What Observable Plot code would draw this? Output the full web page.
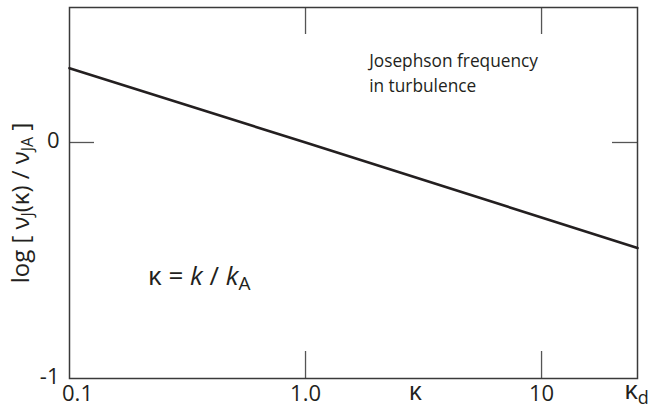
<!DOCTYPE html>
<html>
<head>
<meta charset="utf-8">
<script src="https://cdn.jsdelivr.net/npm/d3@7"></script>
<script src="https://cdn.jsdelivr.net/npm/@observablehq/plot@0.6"></script>
<style>
  html, body { margin: 0; padding: 0; background: #fff; }
  #chart svg { display: block; }
</style>
</head>
<body>
<div id="chart"></div>
<script>
// ---- data ----
const kappaD = 25.5;
const kappa = [0.1, 1, kappaD];
const logNu = [0.315, 0, -0.447];

const xTickValues = [1, 10];
const xTickLabels = ["1.0", "10"];
const xFirstTick = [0.1];
const xFirstLabel = "0.1";
const xLastTick = [kappaD];
const xLastLabel = "κd";
const xInnerTicks = [1, 10];

const yTickValues = [-1, 0];
const yTickLabels = ["-1", "0"];
const yInnerTicks = [0];

const yLabel = "log [ νJ(κ) / νJA ]";
const xLabel = "κ";
const noteText = "Josephson frequency\nin turbulence";
const kappaDef = "κ = k / kA";

// annotation anchors (data units)
const noteX = [1.86], noteY = [0.3];
const defX = [0.215], defY = [-0.57];
const xLabelX = [2.92];

// ---- layout ----
const W = 656, H = 408;
const mL = 69, mR = 19, mT = 7, mB = 30;
const innerW = W - mL - mR, innerH = H - mT - mB;
const tickLen = 27;
const ink = "#231f20";
const font = "Open Sans";
const tickFont = 22;

const data = kappa.map((k, i) => ({k, v: logNu[i]}));

const chart = Plot.plot({
  width: W, height: H,
  marginLeft: mL, marginRight: mR, marginTop: mT, marginBottom: mB,
  x: {type: "log", domain: [0.1, kappaD], axis: null},
  y: {domain: [-1, 0.572], axis: null},
  style: {fontFamily: font, background: "#fff", color: ink},
  marks: [
    Plot.tickX(xInnerTicks, {x: d => d, insetBottom: innerH - tickLen, stroke: "#555", strokeWidth: 1.3}),
    Plot.tickX(xInnerTicks, {x: d => d, insetTop: innerH - tickLen, stroke: "#555", strokeWidth: 1.3}),
    Plot.tickY(yInnerTicks, {y: d => d, insetRight: innerW - 25, stroke: "#555", strokeWidth: 1.3}),
    Plot.tickY(yInnerTicks, {y: d => d, insetLeft: innerW - 25, stroke: "#555", strokeWidth: 1.3}),
    Plot.frame({stroke: "#3a3a3a", strokeWidth: 1.5}),
    Plot.line(data, {x: "k", y: "v", stroke: ink, strokeWidth: 2.6}),
    // x tick labels
    Plot.text(xTickValues, {x: d => d, text: (d, i) => xTickLabels[i], frameAnchor: "bottom", textAnchor: "middle", lineAnchor: "middle", dy: 15, fontSize: tickFont, fill: ink}),
    Plot.text(xFirstTick, {x: d => d, text: () => xFirstLabel, frameAnchor: "bottom", textAnchor: "middle", lineAnchor: "middle", dx: 8, dy: 15, fontSize: tickFont, fill: ink}),
    Plot.text(xLastTick, {x: d => d, text: () => xLastLabel, frameAnchor: "bottom", textAnchor: "middle", lineAnchor: "middle", dx: -1, dy: 12, fontSize: 26, fill: ink}),
    // y tick labels
    Plot.text(yTickValues, {y: d => d, text: (d, i) => yTickLabels[i], frameAnchor: "left", textAnchor: "end", lineAnchor: "middle", dx: -10, dy: -2, fontSize: tickFont, fill: ink}),
    // axis labels
    Plot.text([yLabel], {text: d => d, frameAnchor: "left", textAnchor: "middle", lineAnchor: "middle", dx: -48, dy: 10, rotate: -90, fontSize: 24, fill: ink}),
    Plot.text(xLabelX, {x: d => d, text: () => xLabel, frameAnchor: "bottom", textAnchor: "middle", lineAnchor: "middle", dy: 13, fontSize: 25, fill: ink}),
    // annotations
    Plot.text(noteX, {x: d => d, y: (d, i) => noteY[i], text: () => noteText, textAnchor: "start", lineHeight: 1.45, fontSize: 17.3, fill: ink}),
    Plot.text(defX, {x: d => d, y: (d, i) => defY[i], text: () => kappaDef, textAnchor: "start", fontSize: 26, fill: ink})
  ]
});

// rich text (subscripts, italics)
const rich = {
  "κd": 'κ<tspan baseline-shift="-5" font-size="18">d</tspan>',
  [yLabel]: 'log [ ν<tspan baseline-shift="-4" font-size="16">J</tspan>(κ) / ν<tspan baseline-shift="-4" font-size="16">JA</tspan> ]',
  [kappaDef]: 'κ = <tspan font-style="italic">k</tspan> / <tspan font-style="italic">k</tspan><tspan baseline-shift="-5" font-size="19">A</tspan>'
};
chart.querySelectorAll("text").forEach(t => {
  const key = t.textContent;
  if (rich[key]) t.innerHTML = rich[key];
});

document.getElementById("chart").appendChild(chart);
</script>
</body>
</html>
